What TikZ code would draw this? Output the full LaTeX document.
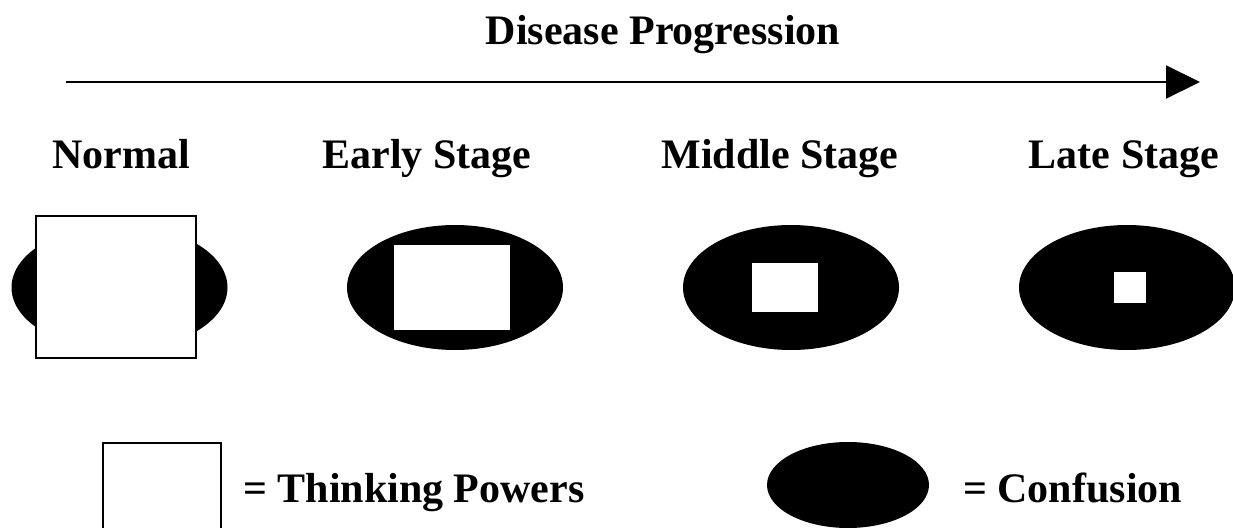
\documentclass[tikz,border=0pt]{standalone}
\usepackage{fontspec}
\setmainfont{Liberation Serif}
\usetikzlibrary{shapes.geometric,arrows.meta}
\begin{document}
\begin{tikzpicture}[x=1pt,y=-1pt,
  lbl/.style={font=\fontsize{42}{50}\selectfont\bfseries, inner sep=0pt, anchor=base},
  blob/.style={ellipse, fill=black, draw=none, inner sep=0pt, minimum width=216pt, minimum height=125pt},
  core/.style={rectangle, fill=white, draw=none, inner sep=0pt},
  box/.style={rectangle, fill=white, draw=black, line width=1.5pt, inner sep=0pt}]
\useasboundingbox (0,0) rectangle (1233,527);
\clip (0,0) rectangle (1233,527);

% title and progression arrow
\node[lbl] (title) at (663,45) {Disease Progression};
\coordinate (arrS) at (66,82);
\coordinate (arrE) at (1200,82);
\draw[line width=2pt, -{Triangle[length=34pt,width=33pt]}] (arrS) -- (arrE);

% stage labels
\node[lbl] (lnormal) at (121,168) {Normal};
\node[lbl] (learly)  at (427,168) {Early Stage};
\node[lbl] (lmiddle) at (780,168) {Middle Stage};
\node[lbl] (llate)   at (1124,168) {Late Stage};

% normal
\node[blob] (enormal) at (119.5,287.5) {};
\node[box, minimum width=160pt, minimum height=142pt] (snormal) at (116,287) {};

% early stage
\node[blob] (eearly) at (455,287.5) {};
\node[core, minimum width=116pt, minimum height=85pt] (searly) at (452,287.5) {};

% middle stage
\node[blob] (emiddle) at (791,287.5) {};
\node[core, minimum width=66pt, minimum height=49pt] (smiddle) at (785,287.5) {};

% late stage
\node[blob] (elate) at (1127,287.5) {};
\node[core, minimum width=32pt, minimum height=31pt] (slate) at (1130,287.5) {};

% legend
\node[box, minimum width=118pt, minimum height=100pt, anchor=north west] (legbox) at (102,442) {};
\node[lbl, anchor=base west] (legthink) at (243,502) {= Thinking Powers};
\node[ellipse, fill=black, inner sep=0pt, minimum width=162pt, minimum height=86pt] (legblob) at (848,485) {};
\node[lbl, anchor=base west] (legconf) at (963,502) {= Confusion};
\end{tikzpicture}
\end{document}
